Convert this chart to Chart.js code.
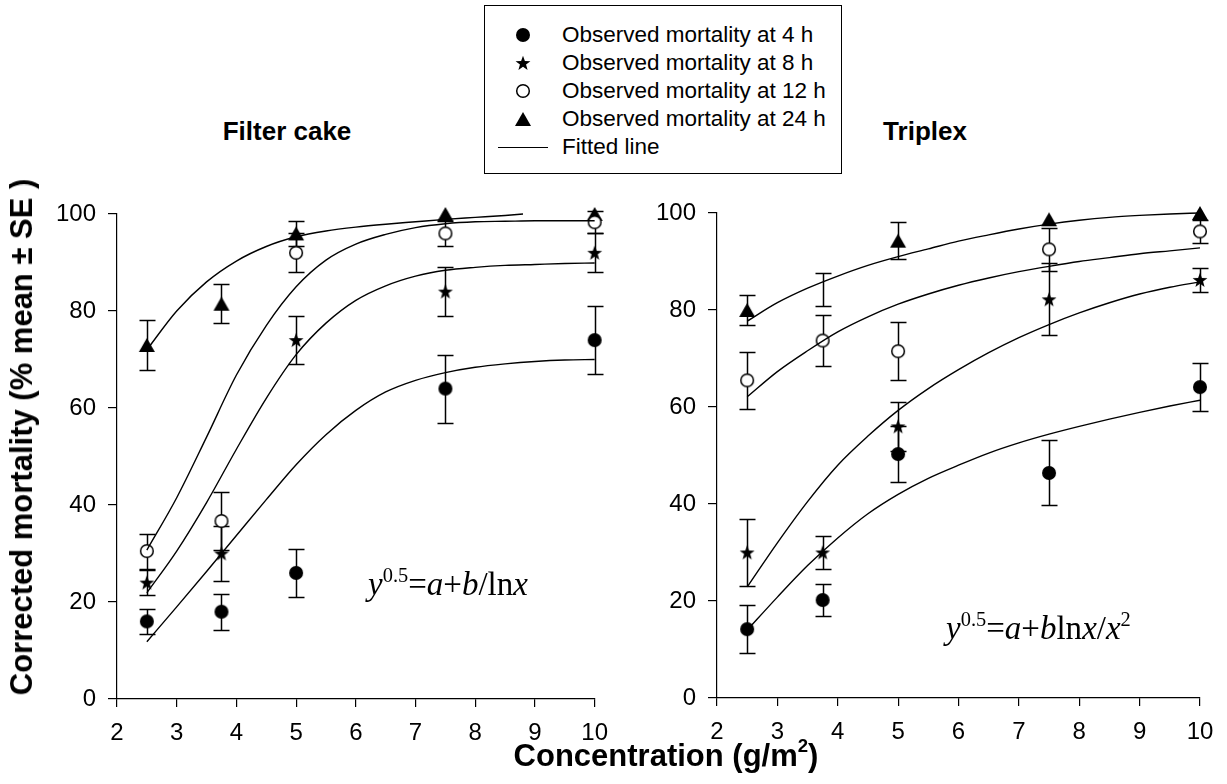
<!DOCTYPE html>
<html>
<head>
<meta charset="utf-8">
<script src="https://cdn.jsdelivr.net/npm/chart.js@4.4.1/dist/chart.umd.min.js"></script>
<style>
    html, body { margin: 0; padding: 0; background: #fff; }
    #page { position: relative; width: 1227px; height: 784px; overflow: hidden;
            font-family: "Liberation Sans", Arial, sans-serif; color: #000; }
    canvas.panel { position: absolute; }
    .title { position: absolute; font-weight: bold; font-size: 26px; white-space: nowrap;
             transform: translate(-50%, -50%); }
    .axis-title { position: absolute; font-weight: bold; white-space: nowrap; }
    #legend { position: absolute; left: 484px; top: 5px; width: 356px; height: 167px;
              border: 1.5px solid #000; background: #fff; }
    .legend-row { position: absolute; left: 77px; height: 26px; line-height: 26px; font-size: 22.5px; white-space: nowrap; }
    .legend-mark { position: absolute; }
    .formula { position: absolute; font-family: "Liberation Serif", "Times New Roman", serif;
               font-size: 33px; white-space: nowrap; line-height: 1; }
    .formula sup { font-size: 0.62em; vertical-align: 0.62em; line-height: 0; }
</style>
</head>
<body>
<div id="page">
    <canvas id="filterChart" class="panel" width="620" height="634" style="left:0px;top:150px"></canvas>
    <canvas id="triplexChart" class="panel" width="607" height="634" style="left:620px;top:150px"></canvas>

    <div class="title" style="left:287px;top:131px">Filter cake</div>
    <div class="title" style="left:925px;top:131px">Triplex</div>

    <div class="axis-title" id="yTitle" style="font-size:31px;left:22px;top:437px;transform:translate(-50%,-50%) rotate(-90deg)">Corrected mortality (% mean ± SE )</div>
    <div class="axis-title" style="font-size:31px;left:666px;top:756px;transform:translate(-50%,-50%)">Concentration (g/m<sup style="font-size:0.6em;vertical-align:0.75em;line-height:0">2</sup>)</div>

    <div class="formula" style="left:368px;top:568px"><i>y</i><sup>0.5</sup>=<i>a</i>+<i>b</i>/ln<i>x</i></div>
    <div class="formula" style="left:946px;top:612px"><i>y</i><sup>0.5</sup>=<i>a</i>+<i>b</i>ln<i>x</i>/<i>x</i><sup>2</sup></div>

    <div id="legend"></div>
</div>

<script>
// exposure concentrations (g/m2)
const doses = [2.5, 3.75, 5, 7.5, 10]

// Filter cake: observed mortality (%) and SE by exposure time
const filterObs4h = [16, 18, 26, 64, 74]
const filterSe4h = [2.5, 3.7, 5, 7, 7]
const filterObs8h = [24, 30, 74, 84, 92]
const filterSe8h = [2.6, 5.6, 5, 5, 4]
const filterObs12h = [30.5, 36.7, 92, 96, 98.3]
const filterSe12h = [3.6, 6, 4, 2.6, 2.3]
const filterObs24h = [73, 81.5, 96, 100, 100]
const filterSe24h = [5.2, 4, 2.5, 0, 0]

// Triplex: observed mortality (%) and SE by exposure time
const triplexObs4h = [14.2, 20.2, 50.3, 46.4, 64.1]
const triplexSe4h = [5, 3.3, 5.8, 6.7, 5]
const triplexObs8h = [30, 30, 56, 82.2, 86.2]
const triplexSe8h = [7, 3.3, 5, 7.4, 2.5]
const triplexObs12h = [65.5, 73.7, 71.5, 92.5, 96.2]
const triplexSe12h = [5.9, 5.3, 6, 4.4, 2.4]
const triplexObs24h = [80, 84.2, 94.3, 98.7, 100]
const triplexSe24h = [3, 3.4, 3.8, 0, 0]

// fitted lines, sampled along the concentration axis
const fitX = [2.5, 3, 3.5, 4, 4.5, 5, 5.5, 6, 6.5, 7, 7.5, 8, 8.5, 9, 9.5, 10]
const filterFit4h = [11.8, 19, 26.3, 33.7, 41.1, 48.3, 54.5, 59.5, 63.3, 65.7, 67.3, 68.4, 69.1, 69.6, 69.9, 70]
const filterFit8h = [21.9, 30.5, 40.5, 51.5, 62, 71, 77.5, 82.2, 85.2, 87.2, 88.4, 89, 89.4, 89.6, 89.8, 89.9]
const filterFit12h = [30.7, 41.5, 54, 66.8, 77, 85, 90.5, 93.8, 95.8, 97.2, 98, 98.4, 98.5, 98.6, 98.6, 98.6]
const filterFit24hX = [2.5, 3, 3.5, 4, 4.5, 5, 5.5, 6, 6.5, 7, 7.5, 8, 8.5, 8.8]
const filterFit24h = [72, 80, 86, 90.3, 93.3, 95.3, 96.5, 97.3, 97.9, 98.4, 98.9, 99.3, 99.7, 100]
const triplexFit4h = [14, 20.8, 27.3, 33, 38, 42, 45.3, 48, 50.5, 52.6, 54.4, 56, 57.5, 58.9, 60.2, 61.4]
const triplexFit8h = [22.9, 32, 40.5, 48, 54, 59.3, 63.8, 67.7, 71.2, 74.3, 77, 79.4, 81.5, 83.3, 84.7, 85.8]
const triplexFit12h = [62.1, 67.3, 71.6, 75.5, 78.6, 81.2, 83.3, 85.1, 86.6, 87.9, 89, 90, 90.8, 91.6, 92.2, 92.8]
const triplexFit24h = [77.7, 81.5, 84.5, 87, 89.2, 91, 92.6, 94.2, 95.5, 96.7, 97.7, 98.5, 99.1, 99.5, 99.8, 100]

const legendLabels = ['Observed mortality at 4 h', 'Observed mortality at 8 h',
    'Observed mortality at 12 h', 'Observed mortality at 24 h', 'Fitted line']

Chart.defaults.font.family = '"Liberation Sans", Arial, sans-serif'
Chart.defaults.color = '#000'

// small bitmaps used as point styles
const makeMarker = (kind) => {
    const c = document.createElement('canvas')
    c.width = 18
    c.height = 18
    const g = c.getContext('2d')
    const m = 9
    g.fillStyle = '#000'
    g.strokeStyle = '#000'
    g.lineWidth = 1.5
    g.beginPath()
    if (kind === 'dot') {
        g.arc(m, m, 7, 0, Math.PI * 2)
        g.fill()
    } else if (kind === 'ring') {
        g.arc(m, m, 6.3, 0, Math.PI * 2)
        g.fillStyle = '#fff'
        g.fill()
        g.stroke()
    } else if (kind === 'tri') {
        g.moveTo(m, 2)
        g.lineTo(m + 8, 16)
        g.lineTo(m - 8, 16)
        g.closePath()
        g.fill()
    } else if (kind === 'star') {
        for (let k = 0; k < 10; k++) {
            const r = k % 2 === 0 ? 7.8 : 3.2
            const a = -Math.PI / 2 + k * Math.PI / 5
            const px = m + r * Math.cos(a), py = m + 0.6 + r * Math.sin(a)
            if (k === 0) g.moveTo(px, py); else g.lineTo(px, py)
        }
        g.closePath()
        g.fill()
    }
    return c
}

const markers = { dot: makeMarker('dot'), star: makeMarker('star'), ring: makeMarker('ring'), tri: makeMarker('tri') }

// vertical SE bars with caps, drawn under the markers
const errorBars = {
    id: 'errorBars',
    beforeDatasetsDraw: (chart) => {
        const {ctx} = chart
        const xs = chart.scales.x, ys = chart.scales.y
        ctx.save()
        ctx.strokeStyle = '#000'
        ctx.lineWidth = 1.5
        chart.data.datasets.forEach(ds => {
            if (!ds.errors) return
            ds.data.forEach((p, i) => {
                const e = ds.errors[i]
                if (!e) return
                const px = Math.round(xs.getPixelForValue(p.x)) + 0.5
                const top = Math.round(ys.getPixelForValue(p.y + e)) + 0.5
                const bot = Math.round(ys.getPixelForValue(p.y - e)) + 0.5
                ctx.beginPath()
                ctx.moveTo(px, top); ctx.lineTo(px, bot)
                ctx.moveTo(px - 8, top); ctx.lineTo(px + 8, top)
                ctx.moveTo(px - 8, bot); ctx.lineTo(px + 8, bot)
                ctx.stroke()
            })
        })
        ctx.restore()
    }
}

const observed = (values, errors, marker, radius) => ({
    data: doses.map((x, i) => ({x: x, y: values[i]})),
    errors: errors,
    showLine: false,
    pointStyle: marker,
    pointRadius: radius || 7,
    order: 1
})

const fitted = (xs, values) => ({
    data: xs.map((x, i) => ({x: x, y: values[i]})),
    showLine: true,
    borderColor: '#000',
    borderWidth: 1.4,
    pointRadius: 0,
    fill: false,
    cubicInterpolationMode: 'monotone',
    order: 0
})

const tickFont = { size: 24 }

const generatePanel = (canvasId, datasets, yWidth, padding) => {
    return new Chart(document.getElementById(canvasId), {
        type: 'scatter',
        data: { datasets: datasets },
        options: {
            responsive: false,
            animation: false,
            events: [],
            clip: false,
            layout: { padding: padding },
            plugins: {
                legend: { display: false },
                tooltip: { enabled: false }
            },
            scales: {
                x: {
                    type: 'linear',
                    min: 2,
                    max: 10,
                    ticks: { stepSize: 1, font: tickFont, padding: 12, color: '#000' },
                    grid: { drawOnChartArea: false, tickLength: 8, color: '#000', lineWidth: 1.2 },
                    border: { color: '#000', width: 1.2 },
                    afterFit: (s) => { s.height = 45 }
                },
                y: {
                    min: 0,
                    max: 100,
                    ticks: { stepSize: 20, font: tickFont, padding: 12, color: '#000' },
                    grid: { drawOnChartArea: false, tickLength: 9, color: '#000', lineWidth: 1.2 },
                    border: { color: '#000', width: 1.2 },
                    afterFit: (s) => { s.width = yWidth }
                }
            }
        },
        plugins: [errorBars]
    })
}

generatePanel('filterChart', [
    observed(filterObs4h, filterSe4h, markers.dot),
    observed(filterObs8h, filterSe8h, markers.star),
    observed(filterObs12h, filterSe12h, markers.ring),
    observed(filterObs24h, filterSe24h, markers.tri),
    fitted(fitX, filterFit4h),
    fitted(fitX, filterFit8h),
    fitted(fitX, filterFit12h),
    fitted(filterFit24hX, filterFit24h)
], 117, { left: 0, top: 64, right: 17, bottom: 40 })

generatePanel('triplexChart', [
    observed(triplexObs4h, triplexSe4h, markers.dot),
    observed(triplexObs8h, triplexSe8h, markers.star),
    observed(triplexObs12h, triplexSe12h, markers.ring),
    // the 24 h marker at 3.75 g/m2 is not drawn, only its SE bar
    observed(triplexObs24h, triplexSe24h, markers.tri, [7, 0, 7, 7, 7]),
    fitted(fitX, triplexFit4h),
    fitted(fitX, triplexFit8h),
    fitted(fitX, triplexFit12h),
    fitted(fitX, triplexFit24h)
], 97, { left: 0, top: 63, right: 27, bottom: 41 })

// legend box
const legend = document.getElementById('legend')
const legendMarks = [markers.dot, markers.star, markers.ring, markers.tri, null]
legendLabels.forEach((label, i) => {
    const rowY = 29 + i * 28
    const mark = legendMarks[i]
    if (mark) {
        const c = document.createElement('canvas')
        c.width = 18
        c.height = 18
        c.getContext('2d').drawImage(mark, 0, 0)
        c.className = 'legend-mark'
        c.style.left = (38 - 9) + 'px'
        c.style.top = (rowY - 9) + 'px'
        legend.appendChild(c)
    } else {
        const line = document.createElement('div')
        line.className = 'legend-mark'
        line.style.cssText = 'left:13px;width:50px;height:0;border-top:1.4px solid #000;top:' + rowY + 'px'
        legend.appendChild(line)
    }
    const row = document.createElement('div')
    row.className = 'legend-row'
    row.style.top = (rowY - 13) + 'px'
    row.textContent = label
    legend.appendChild(row)
})
</script>
</body>
</html>
